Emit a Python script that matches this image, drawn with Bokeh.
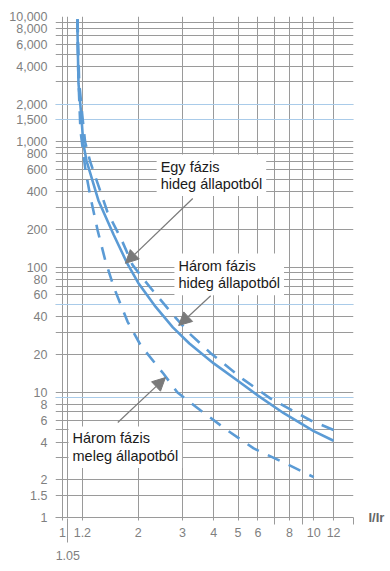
from bokeh.plotting import figure
from bokeh.models import (LogAxis, FixedTicker, NumeralTickFormatter, Grid, Label,
                          Arrow, NormalHead, Range1d)
from bokeh.embed import file_html
from bokeh.resources import INLINE

# ---------------- data ----------------
# Egy fázis hideg állapotból (solid)
x_egy_hideg = [1.148, 1.148, 1.158, 1.19, 1.21, 1.246, 1.39, 1.60, 1.81, 2.0, 2.35, 2.75,
               3.2, 4.0, 5.0, 6.0, 7.6, 10.0, 12.0]
y_egy_hideg = [9500, 7300, 2920, 1560, 970, 708, 340, 180, 107, 75, 48, 33,
               24.5, 17, 12.3, 9.4, 6.8, 4.9, 4.1]

# Három fázis hideg állapotból (upper dashed)
x_harom_hideg = [1.148, 1.152, 1.165, 1.20, 1.23, 1.29, 1.51, 1.73, 1.90, 2.08, 2.30, 2.80,
                 3.23, 3.89, 5.26, 6.74, 9.73, 12.0]
y_harom_hideg = [9500, 7300, 3000, 1600, 1000, 690, 275, 160, 104, 82, 64, 40,
                 29, 20.5, 12.6, 8.9, 5.95, 5.0]

# Három fázis meleg állapotból (lower dashed)
x_harom_meleg = [1.148, 1.148, 1.158, 1.179, 1.235, 1.293, 1.38, 1.48, 1.60, 1.815, 2.05,
                 2.52, 2.87, 3.55, 4.54, 5.77, 7.59, 10.0]
y_harom_meleg = [9500, 6500, 3080, 1230, 590, 359, 196, 113, 69, 36.7, 23.6,
                 14.1, 9.95, 7.15, 4.95, 3.56, 2.75, 2.1]

# axes / ticks
y_tick_values = [1, 1.5, 2, 4, 6, 8, 10, 20, 40, 60, 80, 100, 200, 400, 600, 800,
                 1000, 1500, 2000, 4000, 6000, 8000, 10000]
y_grid_values = [1, 1.5, 2, 3, 4, 5, 6, 7, 8, 9,
                 10, 20, 30, 40, 50, 60, 70, 80, 90,
                 100, 200, 300, 400, 500, 600, 700, 800, 900,
                 1000, 1500, 2000, 3000, 4000, 5000, 6000, 7000, 8000, 9000, 10000]
y_blue_grid_values = [9, 50, 1500, 2000]
x_tick_values = [1, 1.2, 2, 3, 4, 5, 6, 8, 10, 12]
x_extra_tick = [1.05]
x_minor_ticks = [7, 9, 14.4]
x_grid_values = [1, 1.05, 1.2, 2, 3, 4, 5, 6, 7, 8, 9, 10, 12, 14.4]
x_axis_title = "I/Ir"

labels_text = ["Egy fázis\nhideg állapotból",
               "Három fázis\nhideg állapotból",
               "Három fázis\nmeleg állapotból"]
label_pos = [(2.37, 791), (2.79, 128), (1.057, 5.33)]
arrows = [((3.30, 352), (1.78, 107)),
          ((3.89, 59), (2.90, 34.1)),
          ((1.66, 5.73), (2.57, 13.1))]

BLUE = "#5B9BD5"
GRID = "#9a9a9a"
TICK_TXT = "#7f7f7f"
FONT = "Liberation Sans"

p = figure(frame_width=298, frame_height=501, x_axis_type="log", y_axis_type="log",
           x_range=Range1d(0.938, 14.4), y_range=Range1d(1, 10000),
           output_backend="svg", toolbar_location=None,
           min_border_left=55, min_border_right=33, min_border_top=16, min_border_bottom=44)
p.outline_line_color = None
p.background_fill_color = "white"
p.border_fill_color = "white"

# y axis
ya = p.yaxis[0]
ya.ticker = FixedTicker(ticks=y_tick_values, minor_ticks=[])
ya.formatter = NumeralTickFormatter(format="0,0.[00]")
ya.axis_line_color = None
ya.major_tick_line_color = None
ya.minor_tick_line_color = None
ya.major_tick_in = 0
ya.major_tick_out = 0
ya.major_label_standoff = 8
ya.major_label_text_font = FONT
ya.major_label_text_font_size = "12.5px"
ya.major_label_text_color = TICK_TXT

# x axis (main)
xa = p.xaxis[0]
xa.ticker = FixedTicker(ticks=x_tick_values, minor_ticks=x_minor_ticks)
xa.formatter = NumeralTickFormatter(format="0,0.[00]")
xa.axis_line_color = GRID
xa.major_tick_line_color = GRID
xa.minor_tick_line_color = GRID
xa.major_tick_in = 0
xa.major_tick_out = 3
xa.minor_tick_in = 0
xa.minor_tick_out = 7
xa.major_label_standoff = 3
xa.major_label_text_font = FONT
xa.major_label_text_font_size = "12.5px"
xa.major_label_text_color = TICK_TXT

# second x axis with the 1.05 tick
xb = LogAxis(ticker=FixedTicker(ticks=x_extra_tick, minor_ticks=[]),
             formatter=NumeralTickFormatter(format="0,0.[00]"))
xb.axis_line_color = None
xb.major_tick_line_color = GRID
xb.minor_tick_line_color = None
xb.major_tick_in = 21
xb.major_tick_out = 3
xb.major_label_standoff = 8
xb.major_label_text_font = FONT
xb.major_label_text_font_size = "12.5px"
xb.major_label_text_color = TICK_TXT
p.add_layout(xb, "below")

# right axis carrying only the "I/Ir" title at y = 1
yr = LogAxis(ticker=FixedTicker(ticks=[1], minor_ticks=[]),
             major_label_overrides={1: x_axis_title})
yr.axis_line_color = None
yr.major_tick_line_color = None
yr.minor_tick_line_color = None
yr.major_tick_in = 0
yr.major_tick_out = 0
yr.major_label_standoff = 15
yr.major_label_text_font = FONT
yr.major_label_text_font_size = "13px"
yr.major_label_text_font_style = "bold"
yr.major_label_text_color = "#666666"
p.add_layout(yr, "right")

# grids
p.xgrid[0].ticker = FixedTicker(ticks=x_grid_values, minor_ticks=[])
p.xgrid[0].grid_line_color = GRID
p.ygrid[0].ticker = FixedTicker(ticks=y_grid_values, minor_ticks=[])
p.ygrid[0].grid_line_color = GRID
p.add_layout(Grid(dimension=1, ticker=FixedTicker(ticks=y_blue_grid_values, minor_ticks=[]),
                  grid_line_color="#a9cbe9"))

# curves
p.line(x_egy_hideg, y_egy_hideg, line_color=BLUE, line_width=2.6)
p.line(x_harom_hideg, y_harom_hideg, line_color=BLUE, line_width=2.6, line_dash="13 10")
p.line(x_harom_meleg, y_harom_meleg, line_color=BLUE, line_width=2.6, line_dash="13 10")

# annotations
for txt, (lx, ly) in zip(labels_text, label_pos):
    p.add_layout(Label(x=lx, y=ly, text=txt, text_align="left", text_baseline="top",
                       text_font=FONT, text_font_size="14.5px", text_color="#1a1a1a",
                       text_line_height=1.1, background_fill_color="white", padding=4))

for (xs, ys), (xe, ye) in arrows:
    p.add_layout(Arrow(end=NormalHead(size=13, fill_color="#7a7a7a", line_color="#7a7a7a"),
                       x_start=xs, y_start=ys, x_end=xe, y_end=ye,
                       line_color="#7a7a7a", line_width=1.2))

open("out.html", "w").write(file_html(p, INLINE))
